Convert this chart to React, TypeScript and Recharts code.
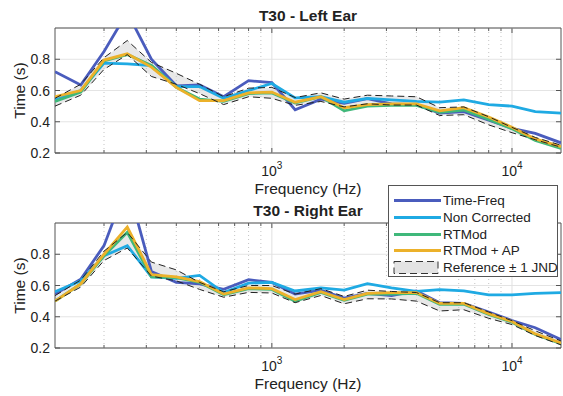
import React from "react";
import {
  ComposedChart,
  Line,
  Area,
  XAxis,
  YAxis,
  CartesianGrid,
  ReferenceLine,
  ReferenceArea,
} from "recharts";

// third-octave band centres (Hz)
const FREQS = [
  125, 160, 200, 250, 315, 400, 500, 630, 800, 1000, 1250, 1600, 2000, 2500,
  3150, 4000, 5000, 6300, 8000, 10000, 12500, 16000,
];

// Left ear, T30 (s)
const tfLeft = [0.72, 0.635, 0.85, 1.1, 0.8, 0.63, 0.635, 0.56, 0.663, 0.65, 0.477, 0.545, 0.518, 0.548, 0.515, 0.51, 0.455, 0.465, 0.41, 0.358, 0.325, 0.265];
const ncLeft = [0.54, 0.6, 0.775, 0.77, 0.76, 0.625, 0.625, 0.55, 0.6, 0.645, 0.553, 0.56, 0.525, 0.55, 0.54, 0.53, 0.525, 0.54, 0.51, 0.5, 0.465, 0.455];
const rtLeft = [0.53, 0.59, 0.79, 0.83, 0.76, 0.62, 0.545, 0.53, 0.58, 0.585, 0.52, 0.56, 0.47, 0.5, 0.505, 0.505, 0.46, 0.475, 0.415, 0.355, 0.28, 0.23];
const apLeft = [0.56, 0.6, 0.795, 0.835, 0.75, 0.62, 0.535, 0.535, 0.585, 0.59, 0.525, 0.56, 0.49, 0.51, 0.515, 0.515, 0.47, 0.49, 0.43, 0.365, 0.29, 0.24];
const refHiLeft = [0.55, 0.64, 0.81, 0.92, 0.78, 0.71, 0.64, 0.56, 0.615, 0.62, 0.555, 0.585, 0.545, 0.57, 0.565, 0.56, 0.49, 0.495, 0.432, 0.364, 0.3, 0.25];
const refLoLeft = [0.5, 0.57, 0.735, 0.83, 0.69, 0.64, 0.58, 0.51, 0.56, 0.55, 0.505, 0.53, 0.495, 0.515, 0.507, 0.507, 0.44, 0.445, 0.38, 0.33, 0.285, 0.237];

// Right ear, T30 (s)
const tfRight = [0.545, 0.64, 0.855, 1.25, 0.69, 0.62, 0.61, 0.575, 0.637, 0.62, 0.545, 0.57, 0.52, 0.55, 0.535, 0.565, 0.49, 0.485, 0.43, 0.376, 0.33, 0.254];
const ncRight = [0.56, 0.63, 0.79, 0.855, 0.655, 0.645, 0.665, 0.555, 0.615, 0.62, 0.565, 0.585, 0.57, 0.612, 0.585, 0.563, 0.573, 0.565, 0.54, 0.54, 0.55, 0.555];
const rtRight = [0.5, 0.61, 0.79, 0.94, 0.655, 0.65, 0.62, 0.54, 0.58, 0.575, 0.5, 0.555, 0.505, 0.545, 0.545, 0.55, 0.48, 0.48, 0.415, 0.365, 0.286, 0.228];
const apRight = [0.5, 0.61, 0.8, 0.975, 0.67, 0.655, 0.625, 0.545, 0.585, 0.58, 0.51, 0.56, 0.51, 0.55, 0.555, 0.555, 0.485, 0.485, 0.42, 0.37, 0.29, 0.232];
const refHiRight = [0.535, 0.635, 0.82, 0.94, 0.75, 0.7, 0.62, 0.56, 0.6, 0.6, 0.545, 0.58, 0.53, 0.57, 0.562, 0.555, 0.49, 0.49, 0.43, 0.375, 0.31, 0.245];
const refLoRight = [0.5, 0.59, 0.76, 0.84, 0.66, 0.63, 0.575, 0.525, 0.556, 0.552, 0.49, 0.536, 0.483, 0.515, 0.514, 0.5, 0.437, 0.445, 0.39, 0.35, 0.28, 0.22];

const Y_TICKS = [0.2, 0.4, 0.6, 0.8];
const X_TICKS = [200, 300, 400, 500, 600, 700, 800, 900, 1000, 2000, 3000, 4000, 5000, 6000, 7000, 8000, 9000, 10000];
const MINOR_GRID = [200, 300, 400, 500, 600, 700, 800, 900, 2000, 3000, 4000, 5000, 6000, 7000, 8000, 9000];
const MAJOR_GRID = [1000, 10000];
const X_LABELS: Record<number, string> = { 1000: "3", 10000: "4" };

const SERIES = [
  { key: "tf", name: "Time-Freq", color: "#4a5cbd" },
  { key: "nc", name: "Non Corrected", color: "#1faae3" },
  { key: "rt", name: "RTMod", color: "#3fb87a" },
  { key: "ap", name: "RTMod + AP", color: "#ecb12a" },
];

const FONT = '"Liberation Sans", Arial, Helvetica, sans-serif';
const TEXT = "#222";
const W = 563;
const H = 196;
const PLOT_W = 506;
const PLOT_H = 125;

function buildRows(tf: number[], nc: number[], rt: number[], ap: number[], hi: number[], lo: number[]) {
  return FREQS.map((f, i) => ({
    f,
    tf: tf[i],
    nc: nc[i],
    rt: rt[i],
    ap: ap[i],
    hi: hi[i],
    lo: lo[i],
    band: [lo[i], hi[i]],
  }));
}

const leftRows = buildRows(tfLeft, ncLeft, rtLeft, apLeft, refHiLeft, refLoLeft);
const rightRows = buildRows(tfRight, ncRight, rtRight, apRight, refHiRight, refLoRight);

function XTick(props: any) {
  const { x, y, payload } = props;
  const v = payload.value;
  const exp = X_LABELS[v];
  const len = exp ? 5 : 3;
  return (
    <g>
      <line x1={x} x2={x} y1={y} y2={y - len} stroke="#555" />
      <line x1={x} x2={x} y1={y - PLOT_H} y2={y - PLOT_H + len} stroke="#555" />
      {exp && (
        <text x={x} y={y + 23} textAnchor="middle" fontSize={14} fontFamily={FONT} fill={TEXT}>
          10
          <tspan fontSize={10} dy={-7}>
            {exp}
          </tspan>
        </text>
      )}
    </g>
  );
}

function YTick(props: any) {
  const { x, y, payload } = props;
  return (
    <g>
      <line x1={x} x2={x + 5} y1={y} y2={y} stroke="#555" />
      <line x1={x + PLOT_W - 5} x2={x + PLOT_W} y1={y} y2={y} stroke="#555" />
      <text x={x - 5} y={y} dy="0.36em" textAnchor="end" fontSize={14} fontFamily={FONT} fill={TEXT}>
        {payload.value.toFixed(1)}
      </text>
    </g>
  );
}

function Panel({ rows }: { rows: any[] }) {
  return (
    <ComposedChart width={W} height={H} data={rows} margin={{ top: 28, right: 2, bottom: 0, left: 0 }}>
      <CartesianGrid vertical={false} stroke="#e4e4e4" />
      {MINOR_GRID.map((v) => (
        <ReferenceLine key={v} x={v} stroke="#c4c4c4" strokeDasharray="1 3" />
      ))}
      {MAJOR_GRID.map((v) => (
        <ReferenceLine key={v} x={v} stroke="#e0e0e0" />
      ))}
      <XAxis
        dataKey="f"
        type="number"
        scale="log"
        domain={[125, 16000]}
        allowDataOverflow
        ticks={X_TICKS}
        interval={0}
        tickSize={0}
        tickMargin={0}
        axisLine={false}
        tick={<XTick />}
        height={43}
      />
      <YAxis
        type="number"
        domain={[0.2, 1]}
        allowDataOverflow
        ticks={Y_TICKS}
        interval={0}
        tickSize={0}
        tickMargin={0}
        axisLine={false}
        tick={<YTick />}
        width={55}
      />
      <Area
        dataKey="band"
        type="linear"
        stroke="none"
        fill="#d9d9d9"
        fillOpacity={0.6}
        isAnimationActive={false}
      />
      {SERIES.map((s) => (
        <Line
          key={s.key}
          dataKey={s.key}
          type="linear"
          stroke={s.color}
          strokeWidth={2.8}
          dot={false}
          isAnimationActive={false}
        />
      ))}
      <Line dataKey="hi" type="linear" stroke="#222" strokeWidth={1} strokeDasharray="7 4" dot={false} isAnimationActive={false} />
      <Line dataKey="lo" type="linear" stroke="#222" strokeWidth={1} strokeDasharray="7 4" dot={false} isAnimationActive={false} />
      <ReferenceArea x1={125} x2={16000} y1={0.2} y2={1} fill="none" stroke="#555" strokeOpacity={1} />
    </ComposedChart>
  );
}

function Texts() {
  const cx = 55 + PLOT_W / 2;
  const panels = [
    { title: "T30 - Left Ear", top: 0 },
    { title: "T30 - Right Ear", top: 195 },
  ];
  return (
    <svg width={W} height={396} style={{ position: "absolute", left: 0, top: 0, pointerEvents: "none" }}>
      {panels.map((p) => (
        <g key={p.title} fontFamily={FONT} fill={TEXT}>
          <text x={cx} y={p.top + 21} textAnchor="middle" fontSize={15.5} fontWeight="bold">
            {p.title}
          </text>
          <text x={cx} y={p.top + 194} textAnchor="middle" fontSize={15.5}>
            Frequency (Hz)
          </text>
          <text
            transform={`translate(25, ${p.top + 90.5}) rotate(-90)`}
            textAnchor="middle"
            fontSize={15.5}
          >
            Time (s)
          </text>
        </g>
      ))}
    </svg>
  );
}

function LegendBox() {
  const rows = [...SERIES.map((s) => ({ name: s.name, color: s.color, ref: false })), { name: "Reference \u00b1 1 JND", color: "", ref: true }];
  return (
    <div
      style={{
        position: "absolute",
        left: 388,
        top: 185,
        width: 168,
        height: 90,
        border: "1px solid #555",
        background: "#fff",
        fontFamily: FONT,
        fontSize: 13.5,
        color: TEXT,
      }}
    >
      {rows.map((r, i) => (
        <div key={r.name} style={{ position: "absolute", left: 0, top: 6 + i * 16.8, height: 17, width: "100%" }}>
          <svg width={52} height={17} style={{ position: "absolute", left: 3, top: 0 }}>
            {r.ref ? (
              <rect x={2} y={2.5} width={44} height={12} fill="#e3e3e3" stroke="#333" strokeDasharray="7 4" />
            ) : (
              <line x1={2} x2={49} y1={8.5} y2={8.5} stroke={r.color} strokeWidth={3} />
            )}
          </svg>
          <span style={{ position: "absolute", left: 54, top: 0, lineHeight: "17px", whiteSpace: "nowrap" }}>{r.name}</span>
        </div>
      ))}
    </div>
  );
}

export default function App() {
  return (
    <div style={{ position: "absolute", left: 0, top: 0, width: W, height: 396, background: "#fff" }}>
      <div style={{ position: "absolute", left: 0, top: 0 }}>
        <Panel rows={leftRows} />
      </div>
      <div style={{ position: "absolute", left: 0, top: 195 }}>
        <Panel rows={rightRows} />
      </div>
      <Texts />
      <LegendBox />
    </div>
  );
}
